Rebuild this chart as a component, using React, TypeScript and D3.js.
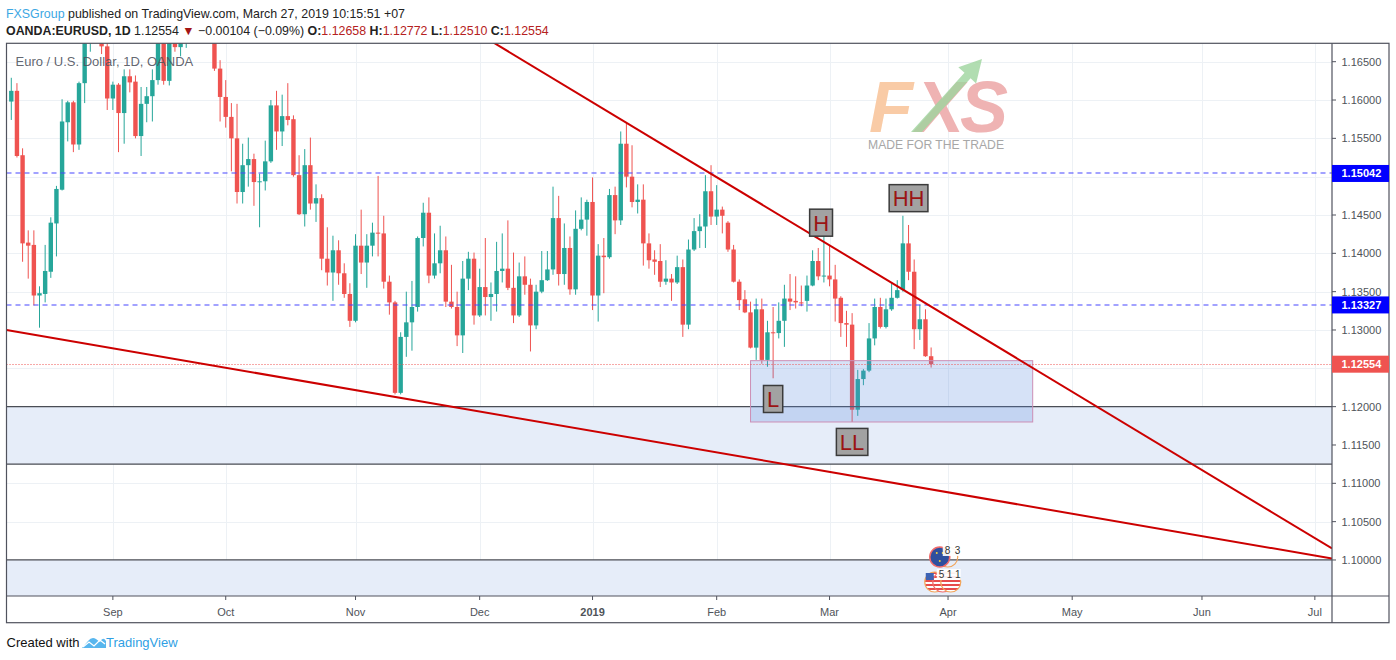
// @ts-nocheck
import * as d3 from "d3"
import * as React from "react"

const startDate = "2018-08-08"
const endDate = "2019-07-31"
const holidays = ["2018-12-25", "2019-01-01"]
const monthNames = ["Jan", "Feb", "Mar", "Apr", "May", "Jun", "Jul", "Aug", "Sep", "Oct", "Nov", "Dec"]

// daily bars [open, high, low, close]
const augBars = [
  [1.1598, 1.1629, 1.1574, 1.1612], [1.1612, 1.1622, 1.1525, 1.1527], [1.1528, 1.1537, 1.1389, 1.1413],
  [1.1414, 1.1430, 1.1367, 1.1410], [1.1411, 1.1430, 1.1332, 1.1345], [1.1345, 1.1357, 1.1303, 1.1348],
  [1.1347, 1.1411, 1.1336, 1.1377], [1.1376, 1.1447, 1.1368, 1.1440], [1.1439, 1.1488, 1.1396, 1.1484],
  [1.1483, 1.1601, 1.1482, 1.1572], [1.1571, 1.1599, 1.1546, 1.1597], [1.1597, 1.1599, 1.1532, 1.1542],
  [1.1542, 1.1624, 1.1535, 1.1622], [1.1622, 1.1690, 1.1596, 1.1680], [1.1680, 1.1733, 1.1663, 1.1700],
  [1.1700, 1.1720, 1.1676, 1.1705], [1.1705, 1.1720, 1.1660, 1.1670], [1.1670, 1.1680, 1.1587, 1.1602],
]
const sepBars = [
  [1.1602, 1.1624, 1.1587, 1.1620], [1.1620, 1.1622, 1.1532, 1.1583], [1.1583, 1.1640, 1.1543, 1.1631],
  [1.1631, 1.1640, 1.1610, 1.1623], [1.1624, 1.1632, 1.1550, 1.1553], [1.1553, 1.1617, 1.1527, 1.1595],
  [1.1595, 1.1617, 1.1571, 1.1605], [1.1605, 1.1640, 1.1572, 1.1626], [1.1626, 1.1700, 1.1620, 1.1688],
  [1.1688, 1.1700, 1.1620, 1.1625], [1.1625, 1.1700, 1.1619, 1.1685], [1.1685, 1.1720, 1.1663, 1.1669],
  [1.1669, 1.1700, 1.1657, 1.1676], [1.1676, 1.1788, 1.1668, 1.1777], [1.1777, 1.1815, 1.1735, 1.1746],
  [1.1746, 1.1790, 1.1733, 1.1747], [1.1747, 1.1785, 1.1730, 1.1765], [1.1765, 1.1795, 1.1710, 1.1738],
  [1.1738, 1.1740, 1.1638, 1.1641], [1.1641, 1.1652, 1.1572, 1.1604],
]
const octBars = [
  [1.1604, 1.1626, 1.1564, 1.1578], [1.1578, 1.1596, 1.1507, 1.1550], [1.1550, 1.1595, 1.1465, 1.1480],
  [1.1480, 1.1543, 1.1465, 1.1515], [1.1515, 1.1551, 1.1487, 1.1523], [1.1523, 1.1530, 1.1462, 1.1493],
  [1.1493, 1.1504, 1.1434, 1.1494], [1.1494, 1.1547, 1.1482, 1.1520], [1.1520, 1.1600, 1.1518, 1.1593],
  [1.1593, 1.1612, 1.1535, 1.1559], [1.1559, 1.1607, 1.1540, 1.1579], [1.1579, 1.1622, 1.1567, 1.1574],
  [1.1575, 1.1580, 1.1500, 1.1502], [1.1502, 1.1528, 1.1450, 1.1451], [1.1451, 1.1536, 1.1435, 1.1515],
  [1.1515, 1.1551, 1.1457, 1.1465], [1.1465, 1.1490, 1.1441, 1.1472], [1.1472, 1.1477, 1.1378, 1.1393],
  [1.1393, 1.1434, 1.1358, 1.1375], [1.1375, 1.1423, 1.1338, 1.1404], [1.1404, 1.1417, 1.1359, 1.1374],
  [1.1374, 1.1387, 1.1342, 1.1347], [1.1347, 1.1361, 1.1304, 1.1312],
]
const novBars = [
  [1.1312, 1.1425, 1.1310, 1.1410], [1.1410, 1.1457, 1.1373, 1.1388], [1.1388, 1.1425, 1.1355, 1.1410],
  [1.1410, 1.1440, 1.1396, 1.1427], [1.1427, 1.1501, 1.1396, 1.1426], [1.1426, 1.1449, 1.1354, 1.1363],
  [1.1363, 1.1371, 1.1320, 1.1336], [1.1336, 1.1338, 1.1216, 1.1218], [1.1218, 1.1297, 1.1216, 1.1291],
  [1.1291, 1.1350, 1.1265, 1.1310], [1.1310, 1.1364, 1.1273, 1.1330], [1.1330, 1.1422, 1.1324, 1.1420],
  [1.1420, 1.1466, 1.1409, 1.1453], [1.1453, 1.1473, 1.1361, 1.1371], [1.1371, 1.1426, 1.1367, 1.1387],
  [1.1387, 1.1436, 1.1374, 1.1404], [1.1404, 1.1422, 1.1330, 1.1337], [1.1337, 1.1385, 1.1328, 1.1330],
  [1.1330, 1.1350, 1.1279, 1.1293], [1.1293, 1.1390, 1.1270, 1.1367], [1.1367, 1.1402, 1.1352, 1.1393],
  [1.1393, 1.1401, 1.1307, 1.1319],
]
const decBars = [
  [1.1319, 1.1380, 1.1317, 1.1356], [1.1356, 1.1420, 1.1319, 1.1343], [1.1343, 1.1362, 1.1312, 1.1347],
  [1.1347, 1.1415, 1.1324, 1.1377], [1.1377, 1.1426, 1.1362, 1.1380], [1.1380, 1.1443, 1.1352, 1.1355],
  [1.1355, 1.1401, 1.1309, 1.1319], [1.1319, 1.1388, 1.1317, 1.1370], [1.1370, 1.1396, 1.1346, 1.1359],
  [1.1359, 1.1367, 1.1272, 1.1306], [1.1306, 1.1359, 1.1301, 1.1350], [1.1350, 1.1403, 1.1348, 1.1365],
  [1.1365, 1.1403, 1.1364, 1.1379], [1.1379, 1.1487, 1.1372, 1.1446], [1.1446, 1.1475, 1.1358, 1.1373],
  [1.1373, 1.1439, 1.1359, 1.1407], [1.1407, 1.1422, 1.1346, 1.1353], [1.1353, 1.1456, 1.1346, 1.1432],
  [1.1432, 1.1473, 1.1430, 1.1444], [1.1444, 1.1470, 1.1423, 1.1467],
]
const janBars = [
  [1.1467, 1.1499, 1.1326, 1.1345], [1.1345, 1.1412, 1.1311, 1.1397], [1.1397, 1.1420, 1.1348, 1.1395],
  [1.1395, 1.1484, 1.1393, 1.1476], [1.1476, 1.1487, 1.1425, 1.1443], [1.1443, 1.1559, 1.1437, 1.1543],
  [1.1543, 1.1570, 1.1486, 1.1500], [1.1500, 1.1541, 1.1460, 1.1467], [1.1467, 1.1490, 1.1452, 1.1470],
  [1.1470, 1.1490, 1.1384, 1.1413], [1.1413, 1.1426, 1.1380, 1.1391], [1.1392, 1.1404, 1.1372, 1.1389],
  [1.1390, 1.1412, 1.1356, 1.1363], [1.1363, 1.1391, 1.1359, 1.1367], [1.1367, 1.1373, 1.1338, 1.1362],
  [1.1362, 1.1397, 1.1360, 1.1382], [1.1382, 1.1392, 1.1291, 1.1307], [1.1307, 1.1418, 1.1301, 1.1405],
  [1.1405, 1.1446, 1.1403, 1.1429], [1.1429, 1.1451, 1.1407, 1.1435], [1.1435, 1.1502, 1.1407, 1.1481],
  [1.1481, 1.1515, 1.1437, 1.1448],
]
const febBars = [
  [1.1448, 1.1489, 1.1437, 1.1457], [1.1457, 1.1461, 1.1426, 1.1449], [1.1440, 1.1442, 1.1402, 1.1405],
  [1.1405, 1.1411, 1.1362, 1.1363], [1.1363, 1.1366, 1.1326, 1.1339], [1.1340, 1.1352, 1.1322, 1.1323],
  [1.1323, 1.1337, 1.1276, 1.1277], [1.1277, 1.1341, 1.1261, 1.1327], [1.1327, 1.1341, 1.1256, 1.1261],
  [1.1261, 1.1312, 1.1252, 1.1297], [1.1297, 1.1330, 1.1237, 1.1296], [1.1296, 1.1336, 1.1289, 1.1312],
  [1.1312, 1.1359, 1.1278, 1.1341], [1.1341, 1.1373, 1.1326, 1.1337], [1.1338, 1.1370, 1.1328, 1.1336],
  [1.1336, 1.1358, 1.1331, 1.1335], [1.1338, 1.1371, 1.1324, 1.1358], [1.1358, 1.1404, 1.1357, 1.1390],
  [1.1390, 1.1407, 1.1365, 1.1370], [1.1370, 1.1428, 1.1362, 1.1371],
]
const marBars = [
  [1.1371, 1.1411, 1.1357, 1.1366], [1.1366, 1.1385, 1.1311, 1.1341], [1.1342, 1.1344, 1.1291, 1.1309],
  [1.1309, 1.1325, 1.1278, 1.1307], [1.1307, 1.1322, 1.1180, 1.1196], [1.1196, 1.1248, 1.1188, 1.1236],
  [1.1236, 1.1249, 1.1228, 1.1247], [1.1247, 1.1309, 1.1245, 1.1289], [1.1289, 1.1341, 1.1280, 1.1330],
  [1.1330, 1.1342, 1.1302, 1.1304], [1.1304, 1.1341, 1.1302, 1.1327], [1.1327, 1.1361, 1.1325, 1.1342],
  [1.1342, 1.1365, 1.1341, 1.1352], [1.1352, 1.1449, 1.1350, 1.1413], [1.1413, 1.1437, 1.1365, 1.1376],
  [1.1376, 1.1392, 1.1275, 1.1301], [1.1301, 1.1333, 1.1287, 1.1314], [1.1314, 1.1327, 1.1265, 1.12658],
  [1.12658, 1.12772, 1.12510, 1.12554],
]

const priceTicks = [1.1, 1.105, 1.11, 1.115, 1.12, 1.125, 1.13, 1.135, 1.14, 1.145, 1.15, 1.155, 1.16, 1.165]
const levelLines = [1.15042, 1.13327]
const zoneBands = [[1.12, 1.1125], [1.1, 1.09]]
const zoneEdges = [1.12, 1.1125, 1.1]
const rangeBox = { from: "2019-02-11", to: "2019-04-22", top: 1.126, bottom: 1.118 }
const trendLines = [
  [["2019-01-02", 1.1597], ["2019-04-19", 1.1255]],
  [["2018-08-08", 1.1299], ["2019-06-28", 1.1007]],
]
const swingLabels = [
  { text: "H", date: "2019-02-27", shift: 0.5, price: 1.144 },
  { text: "HH", date: "2019-03-21", shift: 0, price: 1.1472 },
  { text: "L", date: "2019-02-15", shift: 0, price: 1.121 },
  { text: "LL", date: "2019-03-07", shift: 0, price: 1.1154 },
]
const eventDate = "2019-03-28"

const UP = "#26a69a"
const DOWN = "#ef5350"
const AXIS_TEXT = "#4f5359"
const GRID = "#edf1f5"
const FRAME = "#50535e"
const FONT = "'Liberation Sans', Arial, sans-serif"

const plot = { left: 6.5, right: 1332, top: 43.3, bottom: 596 }
const frame = { right: 1389, bottom: 622.7 }

function tradingDays() {
  const out = []
  const d = new Date(startDate + "T00:00:00Z")
  const end = new Date(endDate + "T00:00:00Z")
  while (d <= end) {
    const iso = d.toISOString().slice(0, 10)
    const wd = d.getUTCDay()
    if (wd !== 0 && wd !== 6 && !holidays.includes(iso)) out.push(iso)
    d.setUTCDate(d.getUTCDate() + 1)
  }
  return out
}

const charW = { H: 0.722, L: 0.556 }
const crisp = (v) => Math.round(v) + 0.5

export default function App() {
  const days = tradingDays()
  const dayIndex = new Map(days.map((d, i) => [d, i]))
  const bars = [...augBars, ...sepBars, ...octBars, ...novBars, ...decBars, ...janBars, ...febBars, ...marBars]
    .map(([o, h, l, c], i) => ({ i, o, h, l, c, date: days[i] }))

  const x = d3.scaleLinear().domain([-0.85, 234.04]).range([plot.left, plot.right])
  const y = d3.scaleLinear().domain([1.0953, 1.1674]).range([plot.bottom, plot.top])
  const fmt = d3.format(".5f")

  const monthTicks = []
  for (let i = 1; i < days.length; i++) {
    if (days[i].slice(0, 7) !== days[i - 1].slice(0, 7) && x(i) < plot.right) {
      const m = +days[i].slice(5, 7)
      monthTicks.push({ i, label: m === 1 ? days[i].slice(0, 4) : monthNames[m - 1], year: m === 1 })
    }
  }

  const last = bars[bars.length - 1]
  const prev = bars[bars.length - 2]
  const chg = last.c - prev.c
  const pct = (chg / prev.c) * 100
  const signed = (v, digits) => (v < 0 ? "\u2212" : "") + Math.abs(v).toFixed(digits)

  const i0 = x.invert(plot.left)
  const i1 = x.invert(plot.right)
  const trendSegs = trendLines.map(([[d1, p1], [d2, p2]]) => {
    const a = dayIndex.get(d1), b = dayIndex.get(d2)
    const k = (p2 - p1) / (b - a)
    return [[i0, p1 + k * (i0 - a)], [i1, p1 + k * (i1 - a)]]
  })

  const axisLabels = [
    { p: levelLines[0], bg: "#0000ff" },
    { p: levelLines[1], bg: "#0000ff" },
    { p: last.c, bg: DOWN },
  ]
  // tick labels hidden under the price tags, as TradingView does
  const shownTicks = priceTicks.filter((p) => axisLabels.every((a) => Math.abs(y(p) - y(a.p)) > 9))

  const ex = x(dayIndex.get(eventDate)) + 3

  return (
    <svg width={1396} height={660} style={{ position: "absolute", left: 0, top: 0, background: "#fff" }}
      fontFamily={FONT}>
      <defs>
        <clipPath id="plotClip">
          <rect x={plot.left} y={plot.top} width={plot.right - plot.left} height={plot.bottom - plot.top} />
        </clipPath>
        <pattern id="usStripes" width="4" height="4" patternUnits="userSpaceOnUse">
          <rect width="4" height="4" fill="#fff" />
          <rect width="4" height="2" fill="#e74c4c" />
        </pattern>
      </defs>
      <rect width={1396} height={660} fill="#fff" />

      {/* header */}
      <text x={6} y={18} fontSize={12.4} fill="#222">
        <tspan fill="#3da7e3">FXSGroup</tspan>
        <tspan> published on TradingView.com, March 27, 2019 10:15:51 +07</tspan>
      </text>
      <text x={6} y={35} fontSize={12.4} fill="#222">
        <tspan fontWeight="bold">OANDA:EURUSD, 1D</tspan>
        <tspan> {fmt(last.c)} </tspan>
        <tspan fill="#a31515">▼</tspan>
        <tspan> {signed(chg, 5)} ({signed(pct, 2)}%) </tspan>
        <tspan fontWeight="bold">O:</tspan><tspan fill="#b52121">{fmt(last.o)}</tspan>
        <tspan fontWeight="bold"> H:</tspan><tspan fill="#b52121">{fmt(last.h)}</tspan>
        <tspan fontWeight="bold"> L:</tspan><tspan fill="#b52121">{fmt(last.l)}</tspan>
        <tspan fontWeight="bold"> C:</tspan><tspan fill="#b52121">{fmt(last.c)}</tspan>
      </text>

      <g clipPath="url(#plotClip)">
        {/* grid */}
        {priceTicks.map((p) => (
          <line key={"hg" + p} x1={plot.left} x2={plot.right} y1={crisp(y(p))} y2={crisp(y(p))} stroke={GRID} />
        ))}
        {monthTicks.map((t) => (
          <line key={"vg" + t.i} x1={crisp(x(t.i))} x2={crisp(x(t.i))} y1={plot.top} y2={plot.bottom}
            stroke={GRID} />
        ))}

        {/* zones */}
        {zoneBands.map(([a, b], k) => (
          <rect key={"z" + k} x={plot.left} width={plot.right - plot.left} y={y(a)} height={y(b) - y(a)}
            fill="#e6edf9" />
        ))}

        {/* candles */}
        {bars.map((b) => {
          const cx = x(b.i)
          const col = b.c >= b.o ? UP : DOWN
          const top = y(Math.max(b.o, b.c))
          const bot = y(Math.min(b.o, b.c))
          return (
            <g key={b.date}>
              <line x1={cx} x2={cx} y1={y(b.h)} y2={y(b.l)} stroke={col} strokeWidth={1} />
              <rect x={cx - 2.2} width={4.4} y={top} height={Math.max(1, bot - top)} fill={col} />
            </g>
          )
        })}

        {zoneEdges.map((p) => (
          <line key={"ze" + p} x1={plot.left} x2={plot.right} y1={y(p)} y2={y(p)} stroke="#4a4d55"
            strokeWidth={1.3} />
        ))}

        {/* range box */}
        <rect x={x(dayIndex.get(rangeBox.from))} y={y(rangeBox.top)}
          width={x(dayIndex.get(rangeBox.to)) - x(dayIndex.get(rangeBox.from))}
          height={y(rangeBox.bottom) - y(rangeBox.top)}
          fill="rgba(90,140,225,0.25)" stroke="#cc8fb5" strokeWidth={1} />

        {/* levels */}
        {levelLines.map((p) => (
          <line key={"lv" + p} x1={plot.left} x2={plot.right} y1={Math.round(y(p))} y2={Math.round(y(p))}
            stroke="#4646ff" strokeWidth={1.2} strokeDasharray="5 4" />
        ))}
        <line x1={plot.left} x2={plot.right} y1={crisp(y(last.c))} y2={crisp(y(last.c))} stroke={DOWN}
          strokeDasharray="1 2" />

        {/* trend lines */}
        {trendSegs.map((s, k) => (
          <line key={"tl" + k} x1={x(s[0][0])} y1={y(s[0][1])} x2={x(s[1][0])} y2={y(s[1][1])}
            stroke="#cc0000" strokeWidth={2} />
        ))}

        {/* swing labels */}
        {swingLabels.map((s) => {
          const cx = x(dayIndex.get(s.date) + s.shift)
          const cy = y(s.price)
          const w = s.text.split("").reduce((a, ch) => a + charW[ch] * 22, 0) + 7
          return (
            <g key={s.text}>
              <rect x={cx - w / 2} y={cy - 13.5} width={w} height={27} fill="#a2a2a2" stroke="#3b3b3b"
                strokeWidth={1.5} />
              <text x={cx} y={cy + 8} fontSize={22} textAnchor="middle" fill="#9b1414">{s.text}</text>
            </g>
          )
        })}

        {/* logo watermark */}
        <g fontStyle="italic" fontWeight="bold" fontSize={72}>
          <text x={869} y={132} fill="#f9cba6">F</text>
          <text x={916} y={132} fill="#efb3b3">X</text>
          <text x={960} y={132} fill="#efb3b3">S</text>
        </g>
        <polygon points="911,132 964.5,72.8 958.3,67.2 982,59 976.1,83.4 970.6,78.3 922,132"
          fill="#9dd49d" fillOpacity={0.8} />
        <text x={868} y={149} fontSize={13} fill="#a7a7a7" textLength={136} lengthAdjust="spacingAndGlyphs">
          MADE FOR THE TRADE
        </text>

        {/* economic events */}
        <g>
          <circle cx={ex + 8} cy={557} r={10} fill="none" stroke="#f2a55a" strokeWidth={1.2} />
          <circle cx={ex} cy={557} r={10} fill="#2f4f9e" stroke="#f06b6b" strokeWidth={1.5} />
          <circle cx={ex - 3} cy={553} r={1} fill="#f5d13b" />
          <circle cx={ex + 3} cy={553} r={1} fill="#f5d13b" />
          <circle cx={ex} cy={561} r={1} fill="#f5d13b" />
          <rect x={ex + 3} y={545} width={22} height={11} fill="#fff" opacity={0.9} />
          <text x={ex + 5} y={554} fontSize={10} fill="#333">8</text>
          <text x={ex + 15} y={554} fontSize={10} fill="#333">3</text>
          {[-5, 3, 11].map((d) => (
            <circle key={d} cx={ex + d} cy={582} r={10} fill="url(#usStripes)" stroke={d === 3 ? "#f06b6b" : "#f2a55a"}
              strokeWidth={1.2} />
          ))}
          <rect x={ex - 14} y={573} width={8} height={7} fill="#3d62b3" />
          <rect x={ex - 3} y={569} width={24} height={11} fill="#fff" opacity={0.9} />
          <text x={ex - 1} y={578} fontSize={10} fill="#333">5</text>
          <text x={ex + 7} y={578} fontSize={10} fill="#333">1 1</text>
        </g>

        <text x={15.5} y={65.5} fontSize={13} fill="#50535e" fillOpacity={0.9}>Euro / U.S. Dollar, 1D, OANDA</text>
      </g>

      {/* frame and axes */}
      <rect x={plot.left} y={plot.top} width={frame.right - plot.left} height={frame.bottom - plot.top}
        fill="none" stroke={FRAME} strokeWidth={1.2} />
      <line x1={plot.left} x2={frame.right} y1={plot.bottom} y2={plot.bottom} stroke={FRAME} strokeWidth={1.2} />
      <line x1={plot.right} x2={plot.right} y1={plot.top} y2={frame.bottom} stroke={FRAME} strokeWidth={1.2} />

      {monthTicks.map((t) => (
        <g key={"mt" + t.i}>
          <line x1={x(t.i)} x2={x(t.i)} y1={plot.bottom} y2={plot.bottom + 4} stroke={FRAME} />
          <text x={x(t.i)} y={615.5} fontSize={11} textAnchor="middle" fill={AXIS_TEXT}
            fontWeight={t.year ? "bold" : "normal"}>{t.label}</text>
        </g>
      ))}
      {priceTicks.map((p) => (
        <line key={"pk" + p} x1={plot.right} x2={plot.right + 4} y1={y(p)} y2={y(p)} stroke={FRAME} />
      ))}
      {shownTicks.map((p) => (
        <text key={"pt" + p} x={1341.5} y={y(p) + 4} fontSize={11} fill={AXIS_TEXT}>{fmt(p)}</text>
      ))}
      {axisLabels.map((a) => (
        <g key={"al" + a.p}>
          <rect x={plot.right} y={y(a.p) - 8.5} width={frame.right - plot.right} height={17} fill={a.bg} />
          <text x={1341.5} y={y(a.p) + 4} fontSize={11} fontWeight="bold" fill="#fff">{fmt(a.p)}</text>
        </g>
      ))}

      {/* footer */}
      <text x={6.5} y={647} fontSize={13} fill="#111">Created with</text>
      <path d="M82,648 L88,641 Q92,636 96,639 L100,642 Q103,636 106,641 L106,648 Z" fill="#58b6ee" />
      <polyline points="83,647 89,642 94,646 100,640 105,644" fill="none" stroke="#fff" strokeWidth={1.3} />
      <text x={106} y={647} fontSize={13} fill="#2f9fe4">TradingView</text>
    </svg>
  )
}
